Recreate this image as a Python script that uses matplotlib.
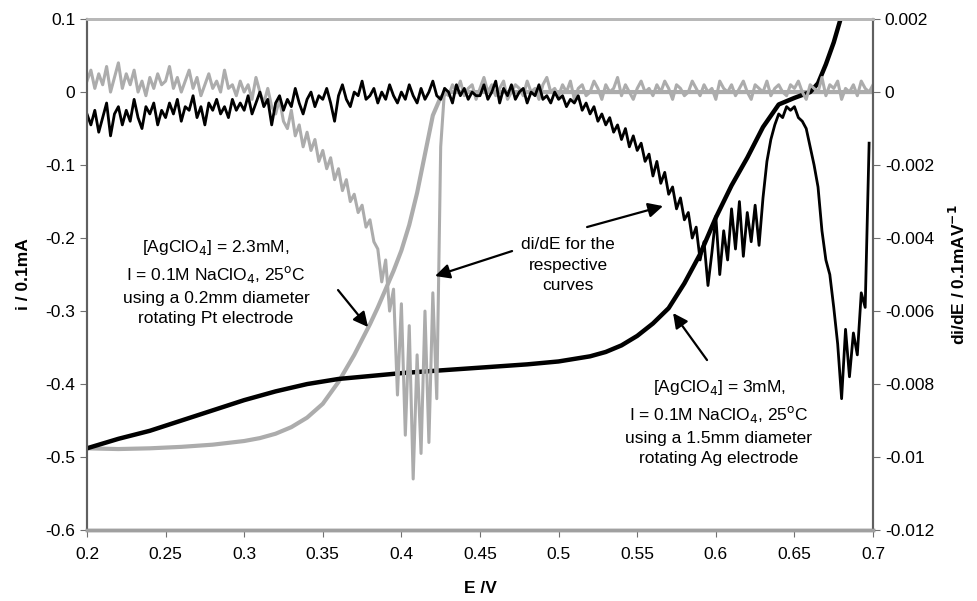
import numpy as np
import matplotlib.pyplot as plt

plt.rcParams['font.family'] = ['Liberation Sans', 'DejaVu Sans']

# current, Ag electrode (thick black, left axis)
ag_E = [0.2, 0.22, 0.24, 0.26, 0.28, 0.30, 0.32, 0.34, 0.36, 0.38, 0.40, 0.42, 0.44, 0.46,
        0.48, 0.50, 0.52, 0.53, 0.54, 0.55, 0.56, 0.57, 0.58, 0.59, 0.60, 0.61, 0.62, 0.63,
        0.64, 0.65, 0.655, 0.66, 0.665, 0.67, 0.675, 0.68]
ag_i = [-0.488, -0.475, -0.464, -0.450, -0.436, -0.422, -0.410, -0.400, -0.393, -0.389,
        -0.385, -0.382, -0.379, -0.376, -0.373, -0.369, -0.362, -0.356, -0.347, -0.334,
        -0.317, -0.296, -0.262, -0.222, -0.172, -0.128, -0.090, -0.048, -0.017, -0.008,
        -0.004, 0.0, 0.012, 0.038, 0.068, 0.105]

# current, Pt electrode (grey, left axis)
pt_E = [0.2, 0.22, 0.24, 0.26, 0.28, 0.30, 0.31, 0.32, 0.33, 0.34, 0.35, 0.36, 0.37,
        0.38, 0.385, 0.39, 0.395, 0.40, 0.405, 0.41, 0.415, 0.42, 0.425, 0.43, 0.5, 0.6, 0.7]
pt_i = [-0.488, -0.489, -0.488, -0.486, -0.483, -0.478, -0.474, -0.468, -0.459, -0.446,
        -0.427, -0.397, -0.360, -0.318, -0.295, -0.270, -0.245, -0.217, -0.182, -0.138,
        -0.085, -0.032, -0.007, 0.0, 0.0, 0.0, 0.0]

# di/dE traces, sampled every 2.5 mV, values in 1e-3 (0.1mA/V)
E_scan = np.linspace(0.2, 0.7, 201)

pt_didE = [
    # 0.200 - 0.2475
    0.3, 0.6, 0.1, 0.5, 0.2, 0.7, 0.0, 0.4, 0.8, 0.1, 0.5, 0.2, 0.6, 0.0, 0.3, -0.1, 0.4, 0.1, 0.5, 0.2,
    # 0.250 - 0.2975
    0.3, 0.7, 0.1, 0.4, 0.0, 0.3, 0.6, 0.1, 0.4, -0.1, 0.2, 0.5, 0.1, 0.3, 0.0, 0.6, 0.1, 0.2, -0.1, 0.3,
    # 0.300 - 0.3475
    0.0, 0.2, -0.2, 0.4, 0.0, -0.3, 0.1, -0.4, -0.6, -0.2, -0.8, -1.0, -0.5, -1.2, -0.9, -1.5, -1.1, -1.6, -1.3, -1.9,
    # 0.350 - 0.3975
    -1.6, -2.1, -1.8, -2.4, -2.1, -2.7, -2.4, -3.0, -2.8, -3.3, -3.1, -3.7, -3.5, -4.1, -4.3, -5.2, -4.6, -6.0, -5.4, -8.3,
    # 0.400 - 0.4475
    -5.8, -9.4, -6.4, -10.6, -7.2, -9.9, -6.0, -9.6, -5.5, -8.4, -1.5, 0.1, -0.1, 0.2, 0.0, 0.3, -0.1, 0.1, 0.2, -0.2,
    # 0.450 - 0.4975
    0.1, 0.4, 0.0, 0.2, -0.1, 0.1, 0.3, -0.2, 0.0, 0.2, 0.1, -0.1, 0.3, 0.0, 0.1, -0.2, 0.2, 0.4, 0.0, 0.1,
    # 0.500 - 0.5475
    -0.1, 0.2, 0.0, 0.3, -0.2, 0.1, 0.2, -0.1, 0.0, 0.3, 0.1, -0.2, 0.2, 0.0, 0.1, 0.4, -0.1, 0.2, 0.0, -0.2,
    # 0.550 - 0.5975
    0.1, 0.3, 0.0, 0.1, -0.1, 0.2, 0.0, 0.3, 0.1, -0.2, 0.2, 0.1, -0.1, 0.0, 0.3, 0.1, -0.1, 0.2, 0.0, 0.1,
    # 0.600 - 0.6475
    -0.2, 0.3, 0.1, 0.0, 0.2, -0.1, 0.1, 0.3, 0.0, -0.2, 0.2, 0.1, 0.0, 0.3, -0.1, 0.1, 0.2, 0.0, -0.1, 0.2,
    # 0.650 - 0.700
    0.1, 0.3, 0.0, -0.2, 0.2, 0.1, 0.0, 0.4, -0.1, 0.2, 0.1, 0.3, -0.2, 0.1, 0.0, 0.2, -0.1, 0.3, 0.1, 0.0, 0.2,
]

ag_didE = [
    -0.6, -0.9, -0.5, -1.1, -0.7, -0.3, -1.2, -0.6, -0.4, -0.9, -0.5, -0.8, -0.2, -0.7, -1.0, -0.4, -0.6, -0.3, -0.9, -0.5,
    -0.7, -0.3, -0.6, -0.2, -0.8, -0.4, -0.5, -0.1, -0.7, -0.4, -0.9, -0.3, -0.5, -0.2, -0.6, -0.4, -0.7, -0.2, -0.5, -0.3,
    -0.5, -0.1, -0.6, -0.3, 0.0, -0.4, -0.2, -0.9, -0.3, -0.1, -0.5, -0.2, -0.4, 0.1, -0.3, -0.6, -0.2, 0.0, -0.4, -0.1,
    -0.2, 0.1, -0.3, -0.8, -0.1, 0.2, -0.2, -0.4, 0.0, -0.1, 0.3, -0.2, -0.1, 0.1, -0.3, 0.0, -0.2, 0.2, -0.1, -0.3,
    0.0, -0.2, 0.2, -0.1, -0.3, 0.1, -0.2, 0.0, 0.3, -0.1, -0.2, 0.1, 0.0, -0.3, 0.2, -0.1, 0.1, -0.2, 0.0, -0.1,
    -0.1, 0.2, -0.2, 0.0, 0.3, -0.3, 0.1, -0.1, 0.2, -0.2, 0.0, 0.1, -0.3, 0.0, -0.1, 0.2, -0.2, -0.1, -0.3, 0.0,
    -0.2, -0.1, -0.4, -0.2, -0.3, -0.1, -0.5, -0.3, -0.6, -0.4, -0.8, -0.6, -0.9, -0.7, -1.1, -0.9, -1.3, -1.0, -1.5, -1.2,
    -1.6, -1.4, -1.9, -1.7, -2.3, -1.9, -2.5, -2.2, -2.8, -2.6, -3.2, -2.9, -3.5, -3.3, -4.0, -3.7, -4.6, -4.1, -5.3, -4.4,
    -3.4, -5.0, -3.8, -4.6, -3.2, -4.3, -3.0, -4.5, -3.3, -4.1, -3.1, -4.2, -2.9, -1.9, -1.3, -0.9, -0.6, -0.7, -0.4, -0.5,
    -0.4, -0.7, -0.8, -1.0, -1.5, -2.0, -2.6, -3.8, -4.6, -5.0, -5.9, -6.9, -8.4, -6.5, -7.8, -6.6, -7.2, -5.5, -5.9, -1.4,
]

left_ticks = [0.1, 0, -0.1, -0.2, -0.3, -0.4, -0.5, -0.6]
right_ticks = [0.002, 0, -0.002, -0.004, -0.006, -0.008, -0.01, -0.012]
x_ticks = [0.2, 0.25, 0.3, 0.35, 0.4, 0.45, 0.5, 0.55, 0.6, 0.65, 0.7]

fig = plt.figure(figsize=(9.77, 6.01), dpi=100)
ax = fig.add_axes([0.089, 0.118, 0.8046, 0.8503])
ax2 = ax.twinx()

grey = '#acacac'
ax.plot(pt_E, pt_i, color=grey, lw=3, solid_joinstyle='round')
ax.plot(ag_E, ag_i, color='black', lw=3.2, solid_capstyle='round')

ax2.plot(E_scan, np.array(pt_didE) * 1e-3, color=grey, lw=2.2)
ax2.plot(E_scan[:len(ag_didE)], np.array(ag_didE) * 1e-3, color='black', lw=2)

ax.set_xlim(0.2, 0.7)
ax.set_ylim(-0.6, 0.1)
ax2.set_ylim(-0.012, 0.002)
ax.set_xticks(x_ticks)
ax.set_xticklabels([f'{t:g}' for t in x_ticks])
ax.set_yticks(left_ticks)
ax.set_yticklabels([f'{t:g}' for t in left_ticks])
ax2.set_yticks(right_ticks)
ax2.set_yticklabels([f'{t:g}' for t in right_ticks])

ax.tick_params(axis='both', labelsize=12.5, direction='out', length=5, color='#707070')
ax.tick_params(axis='x', pad=7)
ax2.tick_params(axis='y', labelsize=12.5, direction='out', length=5, color='#707070')

for a in (ax, ax2):
    a.spines['left'].set_color('#606060')
    a.spines['right'].set_color('#606060')
    a.spines['left'].set_linewidth(1.5)
    a.spines['right'].set_linewidth(1.5)
    a.spines['top'].set_color('#b8b8b8')
    a.spines['top'].set_linewidth(2)
    a.spines['bottom'].set_color('#a0a0a0')
    a.spines['bottom'].set_linewidth(2.5)

ax.set_xlabel('E /V', fontsize=12.5, fontweight='bold', labelpad=14)
ax.set_ylabel('i / 0.1mA', fontsize=12.5, fontweight='bold', labelpad=10)
ax2.set_ylabel('di/dE / 0.1mAV$^{\\mathbf{-1}}$', fontsize=12.5, fontweight='bold', labelpad=10)

tkw = dict(fontsize=12.5, ha='center', va='center', linespacing=1.45)
ax2.text(0.2821, -0.2603, '[AgClO$_4$] = 2.3mM,\nI = 0.1M NaClO$_4$, 25$^{\\rm o}$C\n'
         'using a 0.2mm diameter\nrotating Pt electrode', transform=ax.transData, **tkw)
ax2.text(0.506, -0.237, 'di/dE for the\nrespective\ncurves', transform=ax.transData, **tkw)
ax2.text(0.602, -0.452, '[AgClO$_4$] = 3mM,\nI = 0.1M NaClO$_4$, 25$^{\\rm o}$C\n'
         'using a 1.5mm diameter\nrotating Ag electrode', transform=ax.transData, **tkw)

akw = dict(arrowstyle='-|>', color='black', lw=1.6, mutation_scale=22, shrinkA=0, shrinkB=0)
arrows = [((0.3597, -0.2712), (0.3788, -0.3219)),
          ((0.5181, -0.1849), (0.5664, -0.1562)),
          ((0.4704, -0.2178), (0.4214, -0.2520)),
          ((0.5944, -0.3671), (0.5728, -0.3027))]
for start, tip in arrows:
    ax2.annotate('', xy=tip, xytext=start, xycoords=ax.transData, textcoords=ax.transData,
                 arrowprops=akw)

fig.savefig('out.png', dpi=100)
